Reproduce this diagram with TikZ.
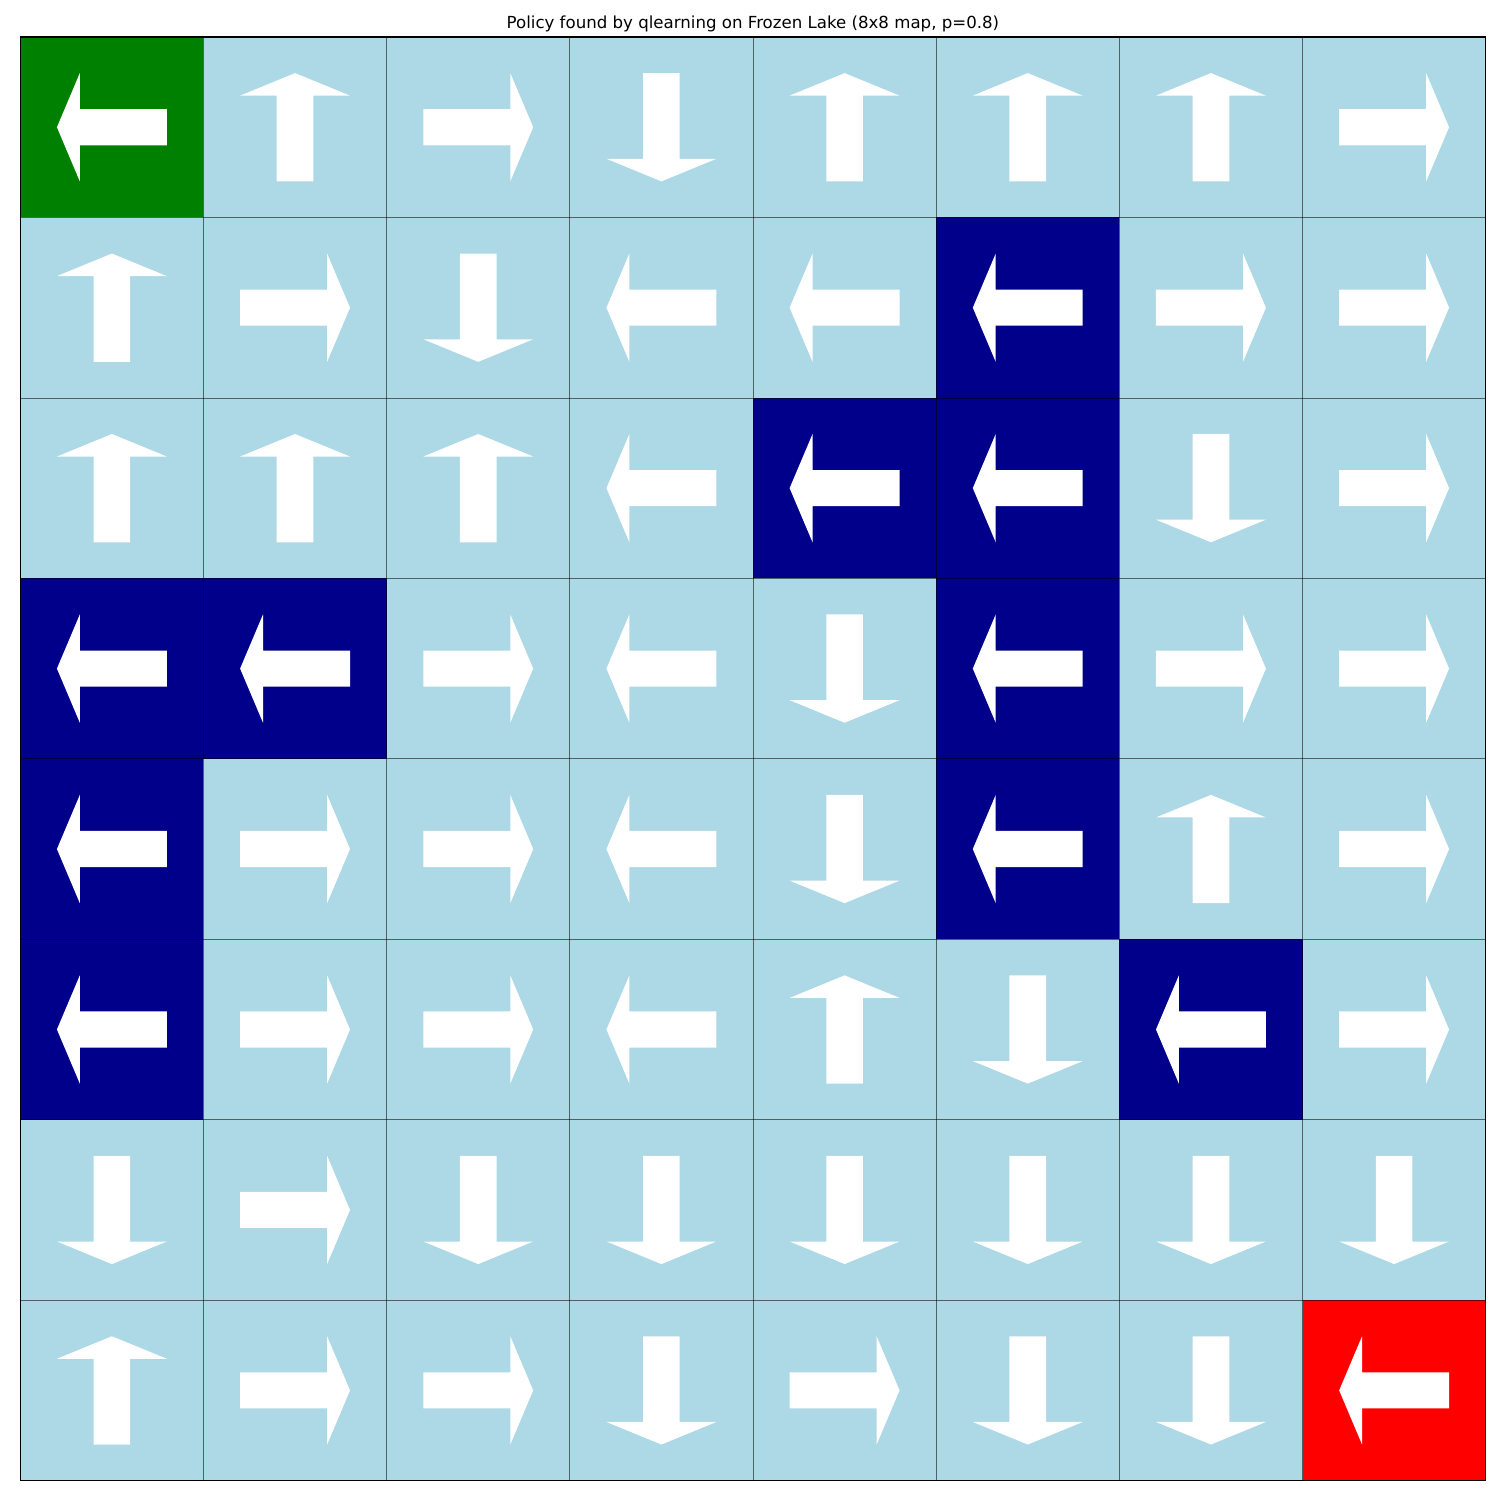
\documentclass[tikz,border=0pt]{standalone}
\usepackage{fontspec}
\setmainfont{DejaVu Sans}
\definecolor{icecol}{HTML}{ADD8E6}
\definecolor{holecol}{HTML}{00008B}
\definecolor{startcol}{HTML}{008000}
\definecolor{goalcol}{HTML}{FF0000}
\newcommand\gx{20.3}
\newcommand\gy{37}
\newcommand\cw{183.175}
\newcommand\ch{180.45}
% #1 cx, #2 cy, #3 ux, #4 uy, #5 vx, #6 vy
\newcommand\drawarrow[6]{%
  \fill[arrowfill]
    ({#1+(-0.3)*(#3)+(-0.1)*(#5)},{#2+(-0.3)*(#4)+(-0.1)*(#6)}) --
    ({#1+(0.175)*(#3)+(-0.1)*(#5)},{#2+(0.175)*(#4)+(-0.1)*(#6)}) --
    ({#1+(0.175)*(#3)+(-0.3)*(#5)},{#2+(0.175)*(#4)+(-0.3)*(#6)}) --
    ({#1+(0.3)*(#3)},{#2+(0.3)*(#4)}) --
    ({#1+(0.175)*(#3)+(0.3)*(#5)},{#2+(0.175)*(#4)+(0.3)*(#6)}) --
    ({#1+(0.175)*(#3)+(0.1)*(#5)},{#2+(0.175)*(#4)+(0.1)*(#6)}) --
    ({#1+(-0.3)*(#3)+(0.1)*(#5)},{#2+(-0.3)*(#4)+(0.1)*(#6)}) -- cycle;}
\newcommand\setcenter[2]{%
  \pgfmathsetmacro\cx{\gx+(#1+0.5)*\cw}%
  \pgfmathsetmacro\cy{\gy+(#2+0.5)*\ch}}
\newcommand\arrL[2]{\setcenter{#1}{#2}\drawarrow{\cx}{\cy}{-\cw}{0}{0}{\ch}}
\newcommand\arrR[2]{\setcenter{#1}{#2}\drawarrow{\cx}{\cy}{\cw}{0}{0}{\ch}}
\newcommand\arrU[2]{\setcenter{#1}{#2}\drawarrow{\cx}{\cy}{0}{-\ch}{\cw}{0}}
\newcommand\arrD[2]{\setcenter{#1}{#2}\drawarrow{\cx}{\cy}{0}{\ch}{\cw}{0}}
\begin{document}
\begin{tikzpicture}[x=0.01in,y=-0.01in,
  arrowfill/.style={fill=white},
  gridline/.style={draw=black,draw opacity=0.55,line width=0.5pt},
  frameline/.style={draw=black,line width=0.8pt}]
\useasboundingbox (0,0) rectangle (1500,1500);
\fill[white] (0,0) rectangle (1500,1500);
% ice background
\fill[icecol] (\gx,\gy) rectangle ({\gx+8*\cw},{\gy+8*\ch});
% special cells
\foreach \c/\r/\col in {0/0/startcol, 5/1/holecol, 4/2/holecol, 5/2/holecol,
  0/3/holecol, 1/3/holecol, 5/3/holecol, 0/4/holecol, 5/4/holecol,
  0/5/holecol, 6/5/holecol, 7/7/goalcol}
  \fill[\col] ({\gx+\c*\cw},{\gy+\r*\ch}) rectangle ++(\cw,\ch);
% grid lines
\foreach \k in {1,...,7}{
  \draw[gridline] ({\gx+\k*\cw},\gy) -- ({\gx+\k*\cw},{\gy+8*\ch});
  \draw[gridline] (\gx,{\gy+\k*\ch}) -- ({\gx+8*\cw},{\gy+\k*\ch});
}
% arrows
\foreach \rowlist [count=\i from 0] in {
  {L,U,R,D,U,U,U,R},
  {U,R,D,L,L,L,R,R},
  {U,U,U,L,L,L,D,R},
  {L,L,R,L,D,L,R,R},
  {L,R,R,L,D,L,U,R},
  {L,R,R,L,U,D,L,R},
  {D,R,D,D,D,D,D,D},
  {U,R,R,D,R,D,D,L}}{
  \foreach \d [count=\j from 0] in \rowlist {
    \csname arr\d\endcsname{\j}{\i}
  }
}
% frame
\draw[frameline] (\gx,\gy) rectangle ({\gx+8*\cw},{\gy+8*\ch});
\node[anchor=base,inner sep=0pt,font=\fontsize{12}{14}\selectfont] (title) at (752.9,28.5)
  {Policy found by qlearning on Frozen Lake (8x8 map, p=0.8)};
\end{tikzpicture}
\end{document}
